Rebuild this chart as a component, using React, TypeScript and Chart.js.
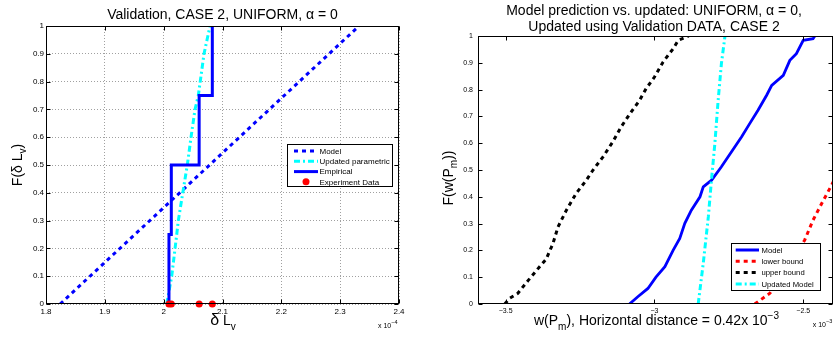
import React, { useEffect, useRef } from 'react';
import { Chart, registerables } from 'chart.js';

Chart.register(...registerables);

const FONT = '"Liberation Sans", Arial, Helvetica, sans-serif';

// ---------------- Left chart data (x in units of 1e-4) ----------------
const leftXTicks = [1.8, 1.9, 2.0, 2.1, 2.2, 2.3, 2.4];
const leftXTickLabels = ['1.8', '1.9', '2', '2.1', '2.2', '2.3', '2.4'];
const yTicks = [0, 0.1, 0.2, 0.3, 0.4, 0.5, 0.6, 0.7, 0.8, 0.9, 1];
const yTickLabels = ['0', '0.1', '0.2', '0.3', '0.4', '0.5', '0.6', '0.7', '0.8', '0.9', '1'];

const modelX = [1.824, 2.332];
const modelY = [0, 1];
const updatedParamX = [2.0052, 2.0137, 2.0222, 2.0249, 2.0363, 2.0402, 2.0465, 2.0533, 2.0589, 2.0686, 2.0788];
const updatedParamY = [0, 0.1, 0.25, 0.3, 0.45, 0.5, 0.6, 0.7, 0.75, 0.9, 1];
const empiricalX = [2.009, 2.009, 2.013, 2.013, 2.0603, 2.0603, 2.0827, 2.0827];
const empiricalY = [0, 0.25, 0.25, 0.5, 0.5, 0.75, 0.75, 1];
const experimentX = [2.009, 2.013, 2.0603, 2.0827];
const experimentY = [0, 0, 0, 0];

// ---------------- Right chart data (x in units of 1e-3) ----------------
const rightXTicks = [-3.5, -3, -2.5];
const rightXTickLabels = ['\u22123.5', '\u22123', '\u22122.5'];

const predModelX = [-3.084, -3.056, -3.022, -2.995, -2.965, -2.937, -2.915, -2.898, -2.876, -2.847, -2.836, -2.808, -2.775, -2.741, -2.707, -2.680, -2.652, -2.623, -2.606, -2.567, -2.545, -2.523, -2.500, -2.467, -2.461];
const predModelY = [0, 0.027, 0.058, 0.100, 0.139, 0.201, 0.245, 0.301, 0.350, 0.400, 0.437, 0.462, 0.512, 0.568, 0.624, 0.673, 0.723, 0.779, 0.816, 0.853, 0.909, 0.934, 0.984, 0.990, 1.0];

const lowerX = [-2.663, -2.612, -2.556, -2.495, -2.467, -2.438, -2.405, -2.37];
const lowerY = [0, 0.040, 0.127, 0.239, 0.313, 0.375, 0.443, 0.52];

const upperX = [-3.503, -3.487, -3.459, -3.425, -3.386, -3.364, -3.341, -3.324, -3.296, -3.263, -3.229, -3.207, -3.173, -3.140, -3.112, -3.078, -3.050, -3.028, -3.000, -2.971, -2.937, -2.920, -2.895, -2.885];
const upperY = [0, 0.021, 0.040, 0.087, 0.139, 0.167, 0.226, 0.288, 0.350, 0.413, 0.462, 0.499, 0.549, 0.605, 0.661, 0.717, 0.760, 0.804, 0.847, 0.903, 0.953, 0.984, 0.995, 1.0];

const updModelX = [-2.853, -2.836, -2.819, -2.808, -2.797, -2.786, -2.775, -2.763];
const updModelY = [0, 0.152, 0.325, 0.468, 0.599, 0.760, 0.897, 1.0];

const zip = (xs: number[], ys: number[]) => xs.map((x, i) => ({ x, y: ys[i] }));

type Seg = { t: string; s: number; dy?: number };

function drawRich(ctx: CanvasRenderingContext2D, segs: Seg[], x: number, y: number, align: 'center' | 'left', rot = 0) {
  ctx.save();
  ctx.translate(x, y);
  if (rot) ctx.rotate(rot);
  ctx.fillStyle = '#000';
  ctx.textAlign = 'left';
  ctx.textBaseline = 'alphabetic';
  const widths = segs.map((sg) => {
    ctx.font = `${sg.s}px ${FONT}`;
    return ctx.measureText(sg.t).width;
  });
  const total = widths.reduce((a, b) => a + b, 0);
  let cx = align === 'center' ? -total / 2 : 0;
  segs.forEach((sg, i) => {
    ctx.font = `${sg.s}px ${FONT}`;
    ctx.fillText(sg.t, cx, sg.dy || 0);
    cx += widths[i];
  });
  ctx.restore();
}

type LegendItem = { label: string; color: string; dash?: number[]; width?: number; marker?: boolean };

function drawLegend(
  ctx: CanvasRenderingContext2D,
  box: [number, number, number, number],
  items: LegendItem[],
  rows: number[],
  sx1: number,
  sx2: number,
  tx: number,
  fontSize: number
) {
  ctx.save();
  ctx.fillStyle = '#fff';
  ctx.fillRect(box[0], box[1], box[2] - box[0], box[3] - box[1]);
  ctx.strokeStyle = '#000';
  ctx.lineWidth = 1;
  ctx.setLineDash([]);
  ctx.strokeRect(Math.round(box[0]) + 0.5, Math.round(box[1]) + 0.5, Math.round(box[2] - box[0]), Math.round(box[3] - box[1]));
  items.forEach((it, i) => {
    const y = rows[i];
    if (it.marker) {
      ctx.fillStyle = it.color;
      ctx.beginPath();
      ctx.arc((sx1 + sx2) / 2, y, 3.5, 0, Math.PI * 2);
      ctx.fill();
    } else {
      ctx.strokeStyle = it.color;
      ctx.lineWidth = it.width || 3;
      ctx.setLineDash(it.dash || []);
      ctx.beginPath();
      ctx.moveTo(sx1, y);
      ctx.lineTo(sx2, y);
      ctx.stroke();
      ctx.setLineDash([]);
    }
    ctx.fillStyle = '#000';
    ctx.font = `${fontSize}px ${FONT}`;
    ctx.textBaseline = 'middle';
    ctx.textAlign = 'left';
    ctx.fillText(it.label, tx, y + 0.5);
  });
  ctx.restore();
}

function drawFrame(chart: any, xTicks: number[], yTickVals: number[], tl = 4) {
  const ctx = chart.ctx as CanvasRenderingContext2D;
  const a = chart.chartArea;
  const xs = chart.scales.x;
  const ys = chart.scales.y;
  const L = Math.round(a.left) + 0.5;
  const R = Math.round(a.right) - 0.5;
  const T = Math.round(a.top) + 0.5;
  const B = Math.round(a.bottom) - 0.5;
  ctx.save();
  ctx.strokeStyle = '#000';
  ctx.lineWidth = 1;
  ctx.setLineDash([]);
  ctx.beginPath();
  xTicks.forEach((v) => {
    const p = Math.round(xs.getPixelForValue(v)) + 0.5;
    ctx.moveTo(p, B);
    ctx.lineTo(p, B - tl);
    ctx.moveTo(p, T);
    ctx.lineTo(p, T + tl);
  });
  yTickVals.forEach((v) => {
    const p = Math.round(ys.getPixelForValue(v)) + 0.5;
    ctx.moveTo(L, p);
    ctx.lineTo(L + tl, p);
    ctx.moveTo(R, p);
    ctx.lineTo(R - tl, p);
  });
  ctx.stroke();
  ctx.strokeRect(L, T, R - L, B - T);
  ctx.restore();
}

function scaleOpts(o: {
  min: number; max: number; ticks: number[]; labels: string[]; font: number; pad: number;
  grid: boolean; fitW?: number; fitH?: number;
}) {
  return {
    type: 'linear',
    min: o.min,
    max: o.max,
    afterBuildTicks: (s: any) => {
      s.ticks = o.ticks.map((v) => ({ value: v }));
    },
    afterFit: (s: any) => {
      if (o.fitW !== undefined) s.width = o.fitW;
      if (o.fitH !== undefined) s.height = o.fitH;
    },
    ticks: {
      autoSkip: false,
      maxRotation: 0,
      minRotation: 0,
      padding: o.pad,
      color: '#000',
      font: { family: FONT, size: o.font },
      callback: (_v: any, i: number) => o.labels[i],
    },
    grid: { display: o.grid, drawTicks: false, color: '#a0a0a0', lineWidth: 1 },
    border: { display: false, dash: [1, 2] },
  };
}

function LeftChart() {
  const ref = useRef<HTMLCanvasElement>(null);
  useEffect(() => {
    const framePlugin = {
      id: 'leftFrame',
      afterDraw(chart: any) {
        const ctx = chart.ctx as CanvasRenderingContext2D;
        drawFrame(chart, leftXTicks, yTicks);
        drawLegend(
          ctx,
          [287, 144, 392, 186],
          [
            { label: 'Model', color: '#0000ff', dash: [4, 4], width: 3 },
            { label: 'Updated parametric', color: '#00ffff', dash: [6, 3, 2, 3], width: 3 },
            { label: 'Empirical', color: '#0000ff', width: 3 },
            { label: 'Experiment Data', color: '#ff0000', marker: true },
          ],
          [151, 161.3, 171.6, 181.8],
          294,
          318,
          319.5,
          8
        );
        drawRich(ctx, [{ t: 'Validation, CASE 2, UNIFORM, \u03b1 = 0', s: 14 }], 222.5, 18.5, 'center');
        drawRich(ctx, [{ t: '\u03b4', s: 16 }, { t: ' L', s: 14 }, { t: 'v', s: 10, dy: 5 }], 223, 325, 'center');
        drawRich(ctx, [{ t: 'F(\u03b4 L', s: 14 }, { t: 'v', s: 10, dy: 4 }, { t: ')', s: 14 }], 22, 165, 'center', -Math.PI / 2);
        drawRich(ctx, [{ t: 'x 10', s: 7 }, { t: '\u22124', s: 5.5, dy: -4 }], 378, 328, 'left');
      },
    };
    const chart = new Chart(ref.current as HTMLCanvasElement, {
      type: 'line',
      data: {
        datasets: [
          { data: zip(modelX, modelY), borderColor: '#0000ff', borderWidth: 3, borderDash: [4, 4], pointRadius: 0, tension: 0, fill: false, order: 4 },
          { data: zip(updatedParamX, updatedParamY), borderColor: '#00ffff', borderWidth: 3, borderDash: [6, 3, 2, 3], pointRadius: 0, tension: 0, fill: false, order: 3 },
          { data: zip(empiricalX, empiricalY), borderColor: '#0000ff', borderWidth: 3, pointRadius: 0, tension: 0, fill: false, order: 2 },
          { data: zip(experimentX, experimentY), showLine: false, pointRadius: 3.5, pointBackgroundColor: '#ff0000', pointBorderWidth: 0, borderColor: '#ff0000', order: 1, clip: false },
        ],
      } as any,
      options: {
        responsive: false,
        animation: false,
        events: [],
        layout: { padding: { top: 26, right: 21, left: 0, bottom: 0 } },
        plugins: { legend: { display: false }, tooltip: { enabled: false }, title: { display: false } },
        scales: {
          x: scaleOpts({ min: 1.8, max: 2.4, ticks: leftXTicks, labels: leftXTickLabels, font: 8, pad: 3, grid: true, fitH: 34 }),
          y: scaleOpts({ min: 0, max: 1, ticks: yTicks, labels: yTickLabels, font: 8, pad: 2, grid: true, fitW: 46 }),
        },
      } as any,
      plugins: [framePlugin],
    });
    return () => chart.destroy();
  }, []);
  return <canvas ref={ref} width={420} height={338} style={{ position: 'absolute', left: 0, top: 0, width: 420, height: 338 }} />;
}

function RightChart() {
  const ref = useRef<HTMLCanvasElement>(null);
  useEffect(() => {
    const framePlugin = {
      id: 'rightFrame',
      afterDraw(chart: any) {
        const ctx = chart.ctx as CanvasRenderingContext2D;
        drawFrame(chart, rightXTicks, yTicks);
        drawLegend(
          ctx,
          [311, 243, 400, 290],
          [
            { label: 'Model', color: '#0000ff', width: 3 },
            { label: 'lower bound', color: '#ff0000', dash: [4, 4], width: 3 },
            { label: 'upper bound', color: '#000000', dash: [4, 4], width: 3 },
            { label: 'Updated Model', color: '#00ffff', dash: [6, 3, 2, 3], width: 3 },
          ],
          [250, 261.3, 272.6, 284],
          315.7,
          339,
          341.5,
          7.7
        );
        drawRich(ctx, [{ t: 'Model prediction vs. updated: UNIFORM, \u03b1 = 0,', s: 14 }], 234, 15, 'center');
        drawRich(ctx, [{ t: 'Updated using Validation DATA, CASE 2', s: 14 }], 234, 30.7, 'center');
        drawRich(
          ctx,
          [
            { t: 'w(P', s: 14 },
            { t: 'm', s: 10, dy: 5 },
            { t: '), Horizontal distance = 0.42x 10', s: 14 },
            { t: '\u22123', s: 10, dy: -6 },
          ],
          236.5,
          325,
          'center'
        );
        drawRich(ctx, [{ t: 'F(w(P', s: 14 }, { t: 'm', s: 10, dy: 4 }, { t: '))', s: 14 }], 33, 178, 'center', -Math.PI / 2);
        drawRich(ctx, [{ t: 'x 10', s: 7 }, { t: '\u22123', s: 5.5, dy: -4 }], 392.7, 327, 'left');
      },
    };
    const chart = new Chart(ref.current as HTMLCanvasElement, {
      type: 'line',
      data: {
        datasets: [
          { data: zip(predModelX, predModelY), borderColor: '#0000ff', borderWidth: 2.8, pointRadius: 0, tension: 0, fill: false, order: 4 },
          { data: zip(lowerX, lowerY), borderColor: '#ff0000', borderWidth: 3, borderDash: [4, 4], pointRadius: 0, tension: 0, fill: false, order: 3 },
          { data: zip(upperX, upperY), borderColor: '#000000', borderWidth: 3, borderDash: [4, 4], pointRadius: 0, tension: 0, fill: false, order: 2 },
          { data: zip(updModelX, updModelY), borderColor: '#00ffff', borderWidth: 3, borderDash: [6, 3, 2, 3], pointRadius: 0, tension: 0, fill: false, order: 1 },
        ],
      } as any,
      options: {
        responsive: false,
        animation: false,
        events: [],
        layout: { padding: { top: 36, right: 7, left: 0, bottom: 0 } },
        plugins: { legend: { display: false }, tooltip: { enabled: false }, title: { display: false } },
        scales: {
          x: scaleOpts({ min: -3.593, max: -2.4, ticks: rightXTicks, labels: rightXTickLabels, font: 7, pad: 3, grid: false, fitH: 34 }),
          y: scaleOpts({ min: 0, max: 1, ticks: yTicks, labels: yTickLabels, font: 7, pad: 5, grid: false, fitW: 58 }),
        },
      } as any,
      plugins: [framePlugin],
    });
    return () => chart.destroy();
  }, []);
  return <canvas ref={ref} width={420} height={338} style={{ position: 'absolute', left: 420, top: 0, width: 420, height: 338 }} />;
}

export default function App() {
  return (
    <div style={{ position: 'fixed', left: 0, top: 0, width: 833, height: 338, overflow: 'hidden', background: '#fff' }}>
      <LeftChart />
      <RightChart />
    </div>
  );
}
